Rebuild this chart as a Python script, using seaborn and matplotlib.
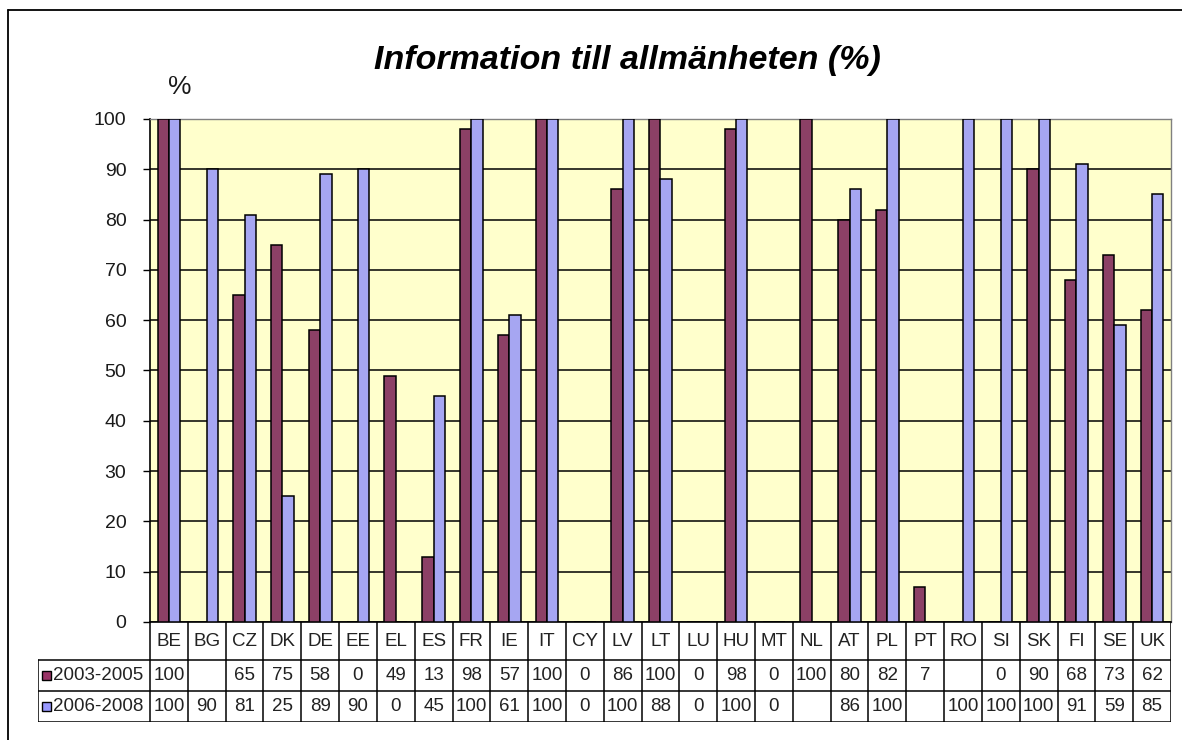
import numpy as np
import pandas as pd
import matplotlib
matplotlib.use("Agg")
import matplotlib.pyplot as plt
import seaborn as sns
from matplotlib.lines import Line2D
from matplotlib.patches import Rectangle

countries = ["BE", "BG", "CZ", "DK", "DE", "EE", "EL", "ES", "FR", "IE", "IT", "CY", "LV", "LT",
             "LU", "HU", "MT", "NL", "AT", "PL", "PT", "RO", "SI", "SK", "FI", "SE", "UK"]
p1_label = "2003-2005"
p2_label = "2006-2008"
p1 = [100, np.nan, 65, 75, 58, 0, 49, 13, 98, 57, 100, 0, 86, 100,
      0, 98, 0, 100, 80, 82, 7, np.nan, 0, 90, 68, 73, 62]
p2 = [100, 90, 81, 25, 89, 90, 0, 45, 100, 61, 100, 0, 100, 88,
      0, 100, 0, np.nan, 86, 100, np.nan, 100, 100, 100, 91, 59, 85]
yticks = list(range(0, 101, 10))
title = "Information till allmänheten (%)"

maroon = "#993366"
blue = "#9999FF"
bg = "#FFFFCC"

df = pd.DataFrame({
    "country": countries * 2,
    "period": [p1_label] * len(countries) + [p2_label] * len(countries),
    "value": p1 + p2,
})

sns.set_theme(style="white")
plt.rcParams["font.family"] = ["Liberation Sans", "DejaVu Sans"]

W, H = 1182, 740
fig = plt.figure(figsize=(W / 100, H / 100), dpi=100)
fig.patch.set_facecolor("white")

def fx(px):
    return px / W

def fy(py):
    return 1 - py / H

# main axes: x 150-1171, y 119-622
L, R, T, B = 150, 1171, 119, 622
ax = fig.add_axes([fx(L), fy(B), fx(R - L), (B - T) / H])
ax.set_facecolor(bg)
sns.barplot(data=df, x="country", y="value", hue="period", order=countries,
            hue_order=[p1_label, p2_label], palette=[maroon, blue],
            width=0.6, gap=0, edgecolor="black", linewidth=1.1,
            errorbar=None, legend=False, ax=ax, zorder=3)
ax.set_xlim(-0.5, len(countries) - 0.5)
ax.set_ylim(0, 100)
ax.set_yticks(yticks)
ax.set_yticklabels([str(t) for t in yticks], fontsize=14, color="#1a1a1a")
ax.set_xticks([])
ax.set_xlabel("")
ax.set_ylabel("")
ax.yaxis.grid(True, color="black", linewidth=1.1, zorder=1)
ax.set_axisbelow(True)
ax.tick_params(axis="y", which="major", length=5, width=1, color="black", pad=12, left=True)
for s in ["top", "right"]:
    ax.spines[s].set_color("#808080")
    ax.spines[s].set_linewidth(1)
for s in ["left", "bottom"]:
    ax.spines[s].set_color("black")
    ax.spines[s].set_linewidth(1.2)

# title and % label
fig.text(fx(627), fy(61), title, ha="center", va="center", fontsize=24.5,
         fontweight="bold", fontstyle="italic", color="black")
fig.text(fx(180), fy(87), "%", ha="center", va="center", fontsize=19, color="#1a1a1a")

# data table axes: x 38-1171, y 622-722
TL, TT, TB = 38, 622, 722
colw = (R - L) / len(countries)
leg_w = (L - TL) / colw
tax = fig.add_axes([fx(TL), fy(TB), fx(R - TL), (TB - TT) / H])
tax.set_xlim(-0.5 - leg_w, len(countries) - 0.5)
tax.set_ylim(100, 0)
tax.axis("off")
n = len(countries)
lw = 1.1
rows_y = [0, 38, 69, 100]
for k in range(n + 1):
    tax.add_line(Line2D([k - 0.5, k - 0.5], [0, 100], color="black", lw=lw))
tax.add_line(Line2D([-0.5 - leg_w, -0.5 - leg_w], [38, 100], color="black", lw=lw))
for yy in rows_y[1:]:
    tax.add_line(Line2D([-0.5 - leg_w, n - 0.5], [yy, yy], color="black", lw=lw))

def fmt(v):
    return "" if (v is None or (isinstance(v, float) and np.isnan(v))) else str(int(round(v)))

fs = 13.5
for i, c in enumerate(countries):
    tax.text(i, 19, c, ha="center", va="center", fontsize=fs, color="#222222")
    tax.text(i, 53.5, fmt(p1[i]), ha="center", va="center", fontsize=fs, color="#222222")
    tax.text(i, 84.5, fmt(p2[i]), ha="center", va="center", fontsize=fs, color="#222222")

# legend keys in table
for yc, col, lab in [(53.5, maroon, p1_label), (84.5, blue, p2_label)]:
    kx = -0.5 - leg_w + 4 / colw
    ksz = 9 / colw
    tax.add_patch(Rectangle((kx, yc - 4.5), ksz, 9, facecolor=col, edgecolor="black", lw=1))
    tax.text(kx + ksz + 1.5 / colw, yc, lab, ha="left", va="center", fontsize=fs, color="#222222")

# outer border (top and left)
fig.add_artist(Line2D([fx(8), fx(1182)], [fy(10), fy(10)], color="black", lw=1.3))
fig.add_artist(Line2D([fx(8), fx(8)], [fy(10), fy(740)], color="black", lw=1.3))

fig.savefig("out.png", dpi=100)
